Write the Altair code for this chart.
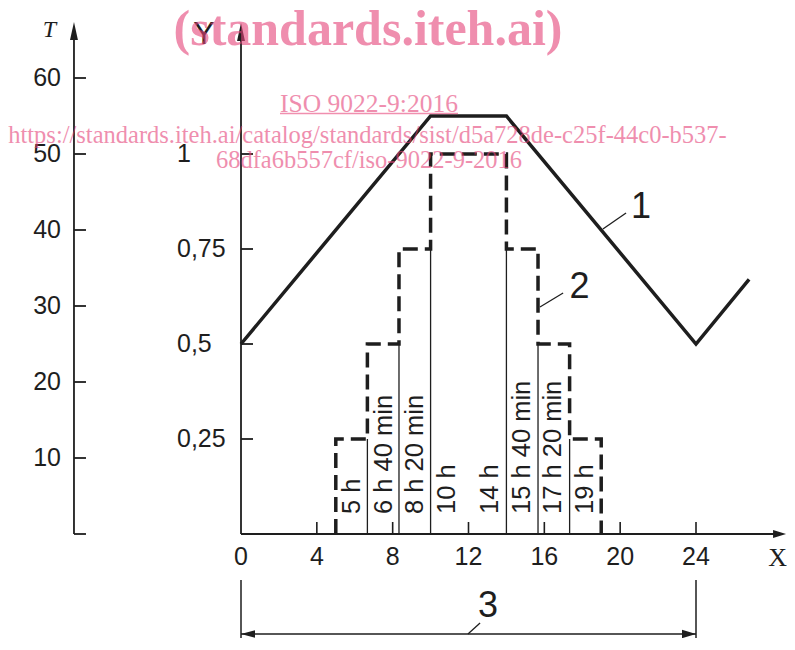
import altair as alt
import pandas as pd

# ---- values ----
hours = [0, 10, 14, 24, 26.8]                 # curve 1: time (h)
temps = [25, 55, 55, 25, 33.5]                # curve 1: T
step_times = [5, 6 + 40 / 60, 8 + 20 / 60, 10, 14, 15 + 40 / 60, 17 + 20 / 60, 19]
step_levels = [0.25, 0.5, 0.75, 1.0, 0.75, 0.5, 0.25, 0.0]   # Y after each time
time_labels = ["5 h", "6 h 40 min", "8 h 20 min", "10 h", "14 h",
               "15 h 40 min", "17 h 20 min", "19 h"]
t_ticks = [10, 20, 30, 40, 50, 60]
t_tick_labels = ["10", "20", "30", "40", "50", "60"]
y_ticks = [0.25, 0.5, 0.75, 1.0]
y_tick_labels = ["0,25", "0,5", "0,75", "1"]
x_ticks = [0, 4, 8, 12, 16, 20, 24]
x_tick_labels = ["0", "4", "8", "12", "16", "20", "24"]
period = [0, 24]                              # dimension 3

Y_TO_T = 50   # Y = 1 is drawn at T = 50

# ---- layout ----
W, H = 717, 620
PX = 18.958   # px per hour
PT = 7.6      # px per T unit
XS = alt.Scale(domain=[-9.020, 28.800], nice=False, zero=False)
YS = alt.Scale(domain=[-13.684, 67.895], nice=False, zero=False)
T_AX = -8.81
INK = "#1e1e1e"
PINK = "#e6447a"
SANS = "Liberation Sans"
SERIF = "Liberation Serif"


def X(f):
    return alt.X(f, type="quantitative", scale=XS, axis=None)


def Y(f):
    return alt.Y(f, type="quantitative", scale=YS, axis=None)


one = pd.DataFrame({"a": [0]})
layers = []

# ---- T axis ----
layers.append(alt.Chart(pd.DataFrame({"x": [T_AX], "y": [0], "y2": [65.5]})).mark_rule(
    color=INK, strokeWidth=1.8).encode(x=X("x"), y=Y("y"), y2="y2"))
tdf = pd.DataFrame({"y": [0] + t_ticks, "x": T_AX, "x2": T_AX + 12 / PX})
layers.append(alt.Chart(tdf).mark_rule(color=INK, strokeWidth=1.8).encode(
    x=X("x"), x2="x2", y=Y("y")))
tl = pd.DataFrame({"y": t_ticks, "lab": t_tick_labels, "x": T_AX})
layers.append(alt.Chart(tl).mark_text(align="right", baseline="middle", dx=-13, font=SANS,
                                      fontSize=25, color=INK).encode(
    x=X("x"), y=Y("y"), text="lab:N"))

# ---- Y axis ----
layers.append(alt.Chart(pd.DataFrame({"x": [0], "y": [0], "y2": [65.3]})).mark_rule(
    color=INK, strokeWidth=1.8).encode(x=X("x"), y=Y("y"), y2="y2"))
ydf = pd.DataFrame({"y": [v * Y_TO_T for v in y_ticks], "lab": y_tick_labels,
                    "x": 0.0, "x2": 12 / PX, "xl": -3.376})
layers.append(alt.Chart(ydf).mark_rule(color=INK, strokeWidth=1.8).encode(
    x=X("x"), x2="x2", y=Y("y")))
layers.append(alt.Chart(ydf).mark_text(align="left", baseline="middle", font=SANS,
                                       fontSize=25, color=INK).encode(
    x=X("xl"), y=Y("y"), text="lab:N"))

# ---- X axis ----
layers.append(alt.Chart(pd.DataFrame({"x": [0], "x2": [28.2], "y": [0]})).mark_rule(
    color=INK, strokeWidth=1.8).encode(x=X("x"), x2="x2", y=Y("y")))
xdf = pd.DataFrame({"x": x_ticks, "lab": x_tick_labels, "y": 0.0, "y2": 12 / PT, "yl": -4.08})
layers.append(alt.Chart(xdf[xdf.x > 0]).mark_rule(color=INK, strokeWidth=1.6).encode(
    x=X("x"), y=Y("y"), y2="y2"))
layers.append(alt.Chart(xdf).mark_text(align="center", baseline="alphabetic", font=SANS,
                                       fontSize=25, color=INK).encode(
    x=X("x"), y=Y("yl"), text="lab:N"))

# ---- arrow heads ----
up = "M0,0L0.22,1L-0.22,1Z"
right = "M0,0L-1,-0.3L-1,0.3Z"
left = "M0,0L1,-0.27L1,0.27Z"
layers.append(alt.Chart(pd.DataFrame({"x": [T_AX, 0], "y": [67.37, 67.24]})).mark_point(
    shape=up, size=1296, filled=True, color=INK, opacity=1, strokeWidth=0).encode(
    x=X("x"), y=Y("y")))
layers.append(alt.Chart(pd.DataFrame({"x": [28.75], "y": [0]})).mark_point(
    shape=right, size=676, filled=True, color=INK, opacity=1, strokeWidth=0).encode(
    x=X("x"), y=Y("y")))

# ---- axis names ----
layers.append(alt.Chart(one).mark_text(text="T", font=SERIF, fontStyle="italic", fontSize=24,
                                       color=INK, align="center", baseline="alphabetic").encode(
    x=alt.X(datum=-10.1, scale=XS, axis=None), y=alt.Y(datum=65.4, scale=YS, axis=None)))
layers.append(alt.Chart(one).mark_text(text="Y", font=SANS, fontSize=32,
                                       color=INK, align="center", baseline="alphabetic").encode(
    x=alt.X(datum=-1.95, scale=XS, axis=None), y=alt.Y(datum=64.5, scale=YS, axis=None)))
layers.append(alt.Chart(one).mark_text(text="X", font=SERIF, fontSize=26,
                                       color=INK, align="center", baseline="alphabetic").encode(
    x=alt.X(datum=28.3, scale=XS, axis=None), y=alt.Y(datum=-4.2, scale=YS, axis=None)))

# ---- curve 1 ----
c1 = pd.DataFrame({"x": hours, "y": temps, "i": range(len(hours))})
layers.append(alt.Chart(c1).mark_line(color=INK, strokeWidth=3.5, strokeJoin="miter").encode(
    x=X("x"), y=Y("y"), order="i:Q"))

# ---- curve 2 (steps) ----
rows = []
prev = 0.0
for t, lv in zip(step_times, step_levels):
    rows.append((t, prev * Y_TO_T))
    rows.append((t, lv * Y_TO_T))
    prev = lv
c2 = pd.DataFrame(rows, columns=["x", "y"])
c2["i"] = range(len(c2))
layers.append(alt.Chart(c2).mark_line(color=INK, strokeWidth=3.5, strokeDash=[15, 7],
                                      strokeJoin="miter").encode(
    x=X("x"), y=Y("y"), order="i:Q"))

# thin verticals under interior steps
vl = []
for i in range(1, len(step_times) - 1):
    vl.append((step_times[i], 0.0, min(step_levels[i - 1], step_levels[i]) * Y_TO_T))
vdf = pd.DataFrame(vl, columns=["x", "y", "y2"])
layers.append(alt.Chart(vdf).mark_rule(color=INK, strokeWidth=1.3).encode(
    x=X("x"), y=Y("y"), y2="y2"))

# rotated time labels
lab = pd.DataFrame({"x": step_times, "lab": time_labels, "y": 0.0})
for cond, off in ((lab.x < 12, 16.5), (lab.x > 12, -16.5)):
    layers.append(alt.Chart(lab[cond]).mark_text(angle=270, align="left", baseline="middle",
                                                 dx=20, dy=off, font=SANS, fontSize=25.5,
                                                 color=INK).encode(
        x=X("x"), y=Y("y"), text="lab:N"))

# ---- callouts 1, 2, 3 ----
callouts = pd.DataFrame({"lab": ["1", "2", "3"], "x": [21.1, 17.86, 13.03],
                         "y": [41.58, 31.05, -10.92]})
layers.append(alt.Chart(callouts).mark_text(font=SANS, fontSize=36, color=INK, align="center",
                                            baseline="alphabetic").encode(
    x=X("x"), y=Y("y"), text="lab:N"))
leaders = pd.DataFrame({"x": [19.09, 15.77, 11.97], "x2": [20.31, 16.99, 12.61],
                        "y": [40.13, 29.87, -13.16], "y2": [42.24, 31.71, -11.71]})
layers.append(alt.Chart(leaders).mark_rule(color=INK, strokeWidth=1.3).encode(
    x=X("x"), x2="x2", y=Y("y"), y2="y2"))

# ---- dimension 3 ----
dim = pd.DataFrame({"x": period, "y": -6.05, "y2": -13.68})
layers.append(alt.Chart(dim).mark_rule(color=INK, strokeWidth=1.5).encode(
    x=X("x"), y=Y("y"), y2="y2"))
layers.append(alt.Chart(pd.DataFrame({"x": [period[0]], "x2": [period[1]], "y": [-13.16]})).mark_rule(
    color=INK, strokeWidth=1.5).encode(x=X("x"), x2="x2", y=Y("y")))
layers.append(alt.Chart(pd.DataFrame({"x": [period[0]], "y": [-13.16]})).mark_point(
    shape=left, size=784, filled=True, color=INK, opacity=1, strokeWidth=0).encode(
    x=X("x"), y=Y("y")))
layers.append(alt.Chart(pd.DataFrame({"x": [period[1]], "y": [-13.16]})).mark_point(
    shape=right, size=784, filled=True, color=INK, opacity=1, strokeWidth=0).encode(
    x=X("x"), y=Y("y")))

# ---- watermark ----
def wm(text, px, py, size, bold=False):
    return alt.Chart(one).mark_text(text=text, font=SERIF, fontSize=size,
                                    fontWeight="bold" if bold else "normal",
                                    color=PINK, opacity=0.6, align="center",
                                    baseline="alphabetic").encode(
        x=alt.value(px), y=alt.value(py))


layers.append(wm("(standards.iteh.ai)", 298, 27, 50, bold=True))
layers.append(wm("ISO 9022-9:2016", 299, 94, 25.5))
layers.append(alt.Chart(one).mark_rule(color=PINK, opacity=0.6, strokeWidth=1.3).encode(
    x=alt.value(210), x2=alt.value(388), y=alt.value(95.5)))
layers.append(wm("https://standards.iteh.ai/catalog/standards/sist/d5a728de-c25f-44c0-b537-",
                 297.5, 125, 24.5))
layers.append(wm("68dfa6b557cf/iso-9022-9-2016", 299, 150, 24.5))

chart = alt.layer(*layers).properties(
    width=W, height=H,
    autosize=alt.AutoSizeParams(type="none"),
    padding={"left": 62, "top": 10, "right": 0, "bottom": 0},
    background="white",
).configure_view(stroke=None)

chart.save("out.html", embed_options={"renderer": "svg", "actions": False})
